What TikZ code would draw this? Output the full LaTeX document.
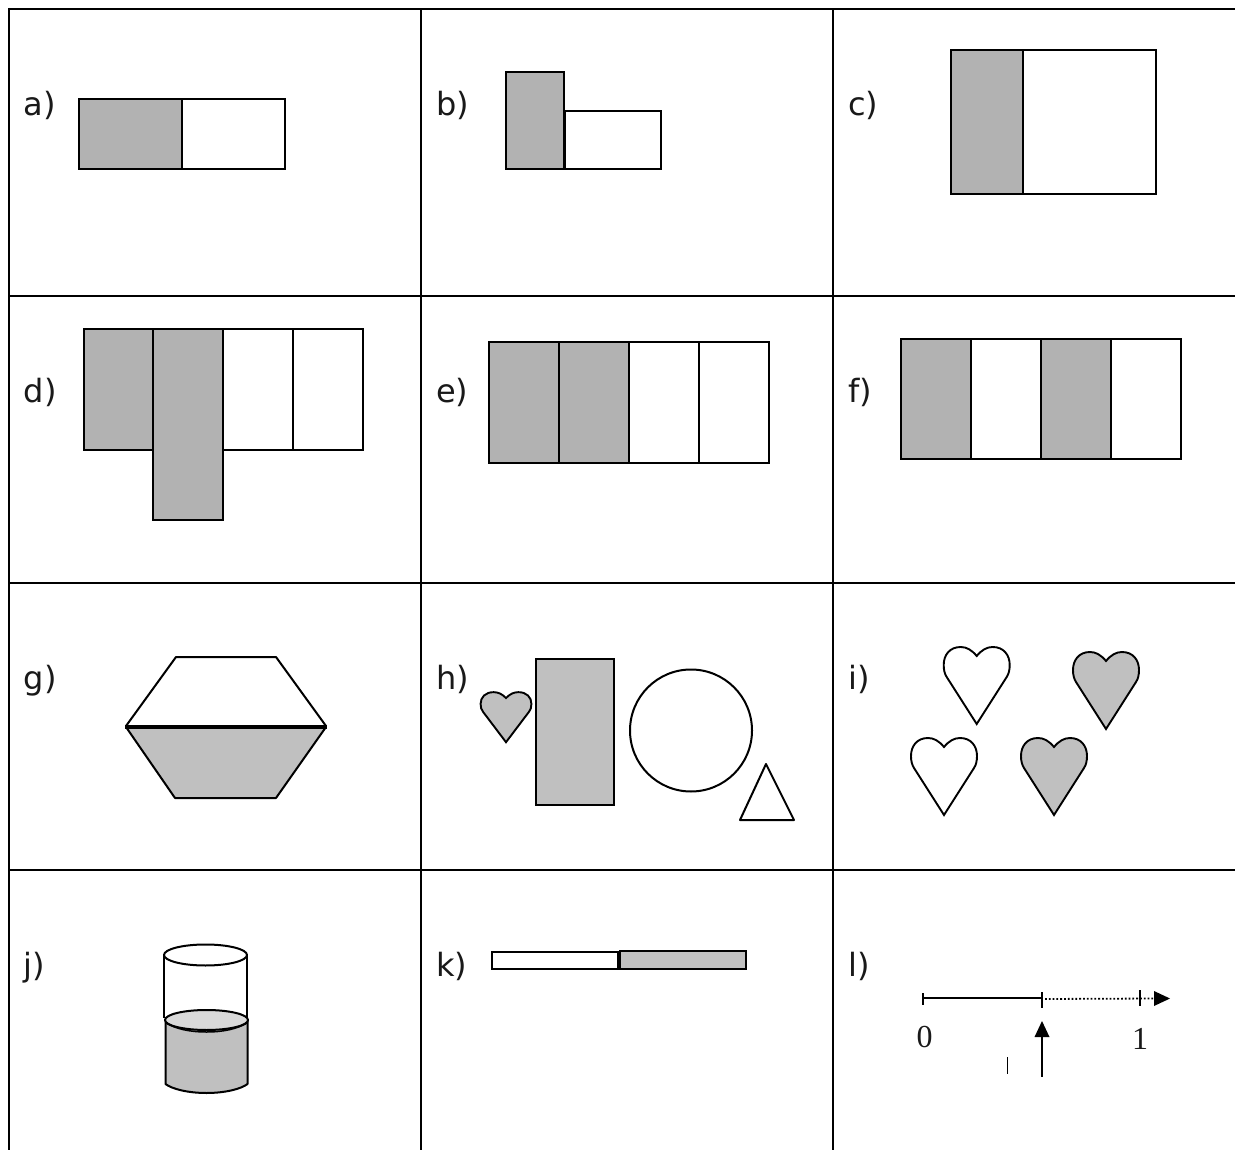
\documentclass[tikz,border=0pt]{standalone}
\usepackage{fontspec}
\setmainfont{DejaVu Sans}
\newfontfamily\numfont{Liberation Serif}
\definecolor{shadeA}{HTML}{B2B2B2}
\definecolor{shadeB}{HTML}{C0C0C0}
\definecolor{shadeC}{HTML}{D9D9D9}
\tikzset{
  grid line/.style={line width=2pt,black},
  shape line/.style={draw=black,line width=2.1pt,line join=miter},
  thin shape/.style={draw=black,line width=2pt,line join=round},
  lbl/.style={font=\fontsize{32}{34}\selectfont,anchor=base west,inner sep=0pt,text=black!90},
  num/.style={font=\numfont\fontsize{32}{34}\selectfont,anchor=center,inner sep=0pt,text=black!90}
}
\newcommand{\heartpath}{(0,0) .. controls (-5,-6) and (-10,-9) .. (-16,-9) .. controls (-27,-9) and (-33,-1) .. (-33,9) .. controls (-33,14) and (-32,18) .. (-30,21) -- (0,68) -- (30,21) .. controls (32,18) and (33,14) .. (33,9) .. controls (33,-1) and (27,-9) .. (16,-9) .. controls (10,-9) and (5,-6) .. (0,0) -- cycle}
\begin{document}
\begin{tikzpicture}[x=1pt,y=-1pt]
\useasboundingbox (0,0) rectangle (1235,1150);
% grid
\draw[grid line] (9,9) -- (1235,9);
\draw[grid line] (9,296) -- (1235,296);
\draw[grid line] (9,583) -- (1235,583);
\draw[grid line] (9,870) -- (1235,870);
\draw[grid line] (9,8) -- (9,1150);
\draw[grid line] (421,9) -- (421,1150);
\draw[grid line] (833,9) -- (833,1150);
% labels
\node[lbl] (la) at (23.5,115.5) {a)};
\node[lbl] (lb) at (436,115.5) {b)};
\node[lbl] (lc) at (848,115.5) {c)};
\node[lbl] (ld) at (23.5,402.5) {d)};
\node[lbl] (le) at (436,402.5) {e)};
\node[lbl] (lf) at (848,402.5) {f)};
\node[lbl] (lg) at (23.5,689.5) {g)};
\node[lbl] (lh) at (436,689.5) {h)};
\node[lbl] (li) at (848,689.5) {i)};
\node[lbl] (lj) at (23.5,976.5) {j)};
\node[lbl] (lk) at (436,976.5) {k)};
\node[lbl] (ll) at (848,976.5) {l)};
% a
\draw[shape line,fill=shadeA] (79,99) rectangle (182,169);
\draw[shape line] (182,99) rectangle (285,169);
% b
\draw[shape line,fill=shadeA] (506,72) rectangle (564,169);
\draw[shape line] (565,111) rectangle (661,169);
% c
\draw[shape line,fill=shadeA] (951,50) rectangle (1023,194);
\draw[shape line] (1023,50) rectangle (1156,194);
% d
\draw[shape line,fill=shadeA] (84,329) rectangle (153,450);
\draw[shape line,fill=shadeA] (153,329) rectangle (223,520);
\draw[shape line] (223,329) rectangle (293,450);
\draw[shape line] (293,329) rectangle (363,450);
% e
\draw[shape line,fill=shadeA] (489,342) rectangle (559,463);
\draw[shape line,fill=shadeA] (559,342) rectangle (629,463);
\draw[shape line] (629,342) rectangle (699,463);
\draw[shape line] (699,342) rectangle (769,463);
% f
\draw[shape line,fill=shadeA] (901,339) rectangle (971,459);
\draw[shape line] (971,339) rectangle (1041,459);
\draw[shape line,fill=shadeA] (1041,339) rectangle (1111,459);
\draw[shape line] (1111,339) rectangle (1181,459);
% g
\draw[thin shape,fill=shadeB] (126,727) -- (326,727) -- (276,798) -- (175,798) -- cycle;
\draw[thin shape] (126,726) -- (176,657) -- (276,657) -- (326,726);
\draw[black,line width=3.6pt] (125,727) -- (327,727);
% h
\begin{scope}[shift={(506,698)},xscale=.77,yscale=.65]
\fill[shadeB] \heartpath;
\draw[black,line width=1.9pt] \heartpath;
\end{scope}
\draw[shape line,fill=shadeB] (536,659) rectangle (614,805);
\draw[thin shape] (691,730.5) circle [radius=61];
\draw[thin shape] (766,764) -- (794,820) -- (740,820) -- cycle;
% i
\begin{scope}[shift={(976.7,656)}]
\draw[black,line width=1.9pt] \heartpath;
\end{scope}
\begin{scope}[shift={(1106,661)}]
\fill[shadeB] \heartpath;
\draw[black,line width=1.9pt] \heartpath;
\end{scope}
\begin{scope}[shift={(944,747)}]
\draw[black,line width=1.9pt] \heartpath;
\end{scope}
\begin{scope}[shift={(1054,747)}]
\fill[shadeB] \heartpath;
\draw[black,line width=1.9pt] \heartpath;
\end{scope}
% j
\draw[thin shape] (164,955) -- (164,1018);
\draw[thin shape] (247,955) -- (247,1018);
\draw[thin shape] (205.5,955) ellipse [x radius=41.5,y radius=10.5];
\draw[thin shape,fill=shadeB] (165.5,1020) -- (165.5,1084) .. controls (172,1089) and (188,1093) .. (206.5,1093) .. controls (225,1093) and (241,1089) .. (247.5,1084) -- (247.5,1020) -- cycle;
\draw[thin shape,fill=shadeC] (206.5,1020) ellipse [x radius=41.5,y radius=10];
\draw[black,line width=1.5pt] (166,1023) .. controls (176,1029) and (190,1032) .. (206.5,1032) .. controls (223,1032) and (237,1029) .. (247,1023);
% k
\draw[shape line] (492,952) rectangle (618,969);
\draw[shape line,fill=shadeB] (620,951) rectangle (746,969);
% l
\coordinate (n0) at (923,998);
\coordinate (nm) at (1042,998);
\coordinate (n1) at (1140,998);
\coordinate (nend) at (1154,998.5);
\draw[black,line width=1.8pt] (n0) -- (nm);
\draw[black,line width=1.8pt] (923,993) -- (923,1005);
\draw[black,line width=1.6pt] (1042,992) -- (1042,1008);
\draw[black,line width=1.6pt] (1140,990) -- (1140,1006);
\draw[black,line width=1.8pt,dotted] (1045,999) -- (nend);
\fill[black] (1170,998.5) -- (1154,991) -- (1154,1006) -- cycle;
\node[num] (z) at (924.5,1037) {0};
\node[num] (o) at (1140,1039) {1};
\draw[black,line width=1.6pt] (1007.5,1057) -- (1007.5,1074);
\draw[black,line width=1.8pt] (1042,1036) -- (1042,1077);
\fill[black] (1042,1021) -- (1034.5,1037) -- (1049.5,1037) -- cycle;
\end{tikzpicture}
\end{document}
